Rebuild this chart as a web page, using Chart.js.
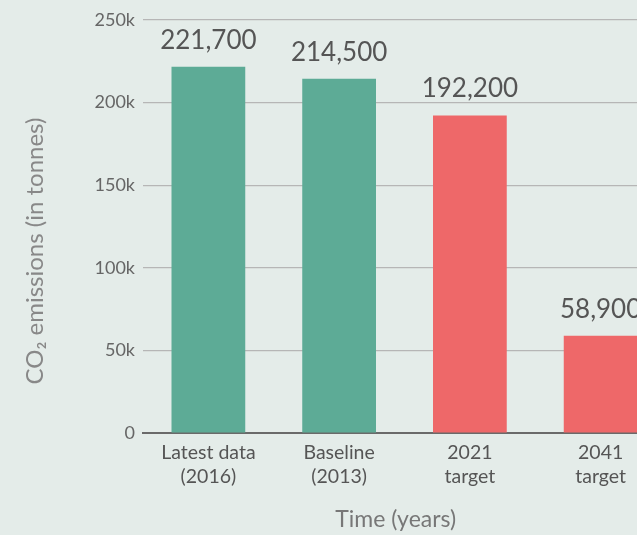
<!DOCTYPE html>
<html>
<head>
<meta charset="utf-8">
<script src="https://cdn.jsdelivr.net/npm/chart.js@4/dist/chart.umd.min.js"></script>
<style>
  html, body { margin: 0; padding: 0; background: #e4ece9; overflow: hidden; width: 637px; height: 535px; }
  #wrap { position: absolute; left: 0; top: 0; width: 668px; height: 535px; }
</style>
</head>
<body>
<div id="wrap"><canvas id="c" width="668" height="535"></canvas></div>
<script>
const categories = [["Latest data", "(2016)"], ["Baseline", "(2013)"], ["2021", "target"], ["2041", "target"]];
const emissions = [221700, 214500, 192200, 58900];
const barColors = ["#5dab96", "#5dab96", "#ee6869", "#ee6869"];
const yTickValues = [0, 50000, 100000, 150000, 200000, 250000];
const yTickLabels = ["0", "50k", "100k", "150k", "200k", "250k"];
const yTitle = "CO\u2082 emissions (in tonnes)";
const xTitle = "Time (years)";

const FONT = "Lato, 'Open Sans', sans-serif";

const valueLabelPlugin = {
  id: 'valueLabels',
  afterDatasetsDraw(chart) {
    const ctx = chart.ctx;
    const meta = chart.getDatasetMeta(0);
    ctx.save();
    ctx.font = "26px " + FONT;
    ctx.fillStyle = "#555555";
    ctx.textAlign = "center";
    ctx.textBaseline = "alphabetic";
    meta.data.forEach((bar, i) => {
      ctx.fillText(emissions[i].toLocaleString('en-US'), bar.x, bar.y - 18);
    });
    ctx.restore();
  }
};

new Chart(document.getElementById('c'), {
  type: 'bar',
  data: {
    labels: categories,
    datasets: [{
      data: emissions,
      backgroundColor: barColors,
      borderWidth: 0,
      barPercentage: 0.564,
      categoryPercentage: 1.0
    }]
  },
  options: {
    responsive: false,
    animation: false,
    devicePixelRatio: 1,
    layout: { padding: { left: 0, right: 2, top: 20, bottom: 0 } },
    plugins: { legend: { display: false }, tooltip: { enabled: false } },
    scales: {
      x: {
        z: 2,
        grid: { display: false },
        border: { display: true, color: "#6a6a6a", width: 2 },
        ticks: { color: "#555555", font: { family: FONT, size: 19.5, lineHeight: 1.23 }, padding: 0, maxRotation: 0, autoSkip: false },
        title: { display: true, text: xTitle + "   ", color: "#777777", font: { family: FONT, size: 23 }, padding: { top: 0, bottom: 2 } },
        afterFit(scale) { scale.height = 102; }
      },
      y: {
        z: 1,
        min: 0,
        max: 250000,
        afterBuildTicks(scale) { scale.ticks = yTickValues.map(v => ({ value: v })); },
        grid: { color: "#b6b6b6", lineWidth: 1.2, drawTicks: false },
        border: { display: false },
        ticks: {
          color: "#666666",
          font: { family: FONT, size: 18 },
          padding: 8,
          callback: (v) => yTickLabels[yTickValues.indexOf(v)]
        },
        title: { display: true, text: yTitle + "        ", color: "#888888", font: { family: FONT, size: 24 }, padding: { top: 21, bottom: 0 } },
        afterFit(scale) { scale.width = 143; }
      }
    }
  },
  plugins: [valueLabelPlugin]
});
</script>
</body>
</html>
